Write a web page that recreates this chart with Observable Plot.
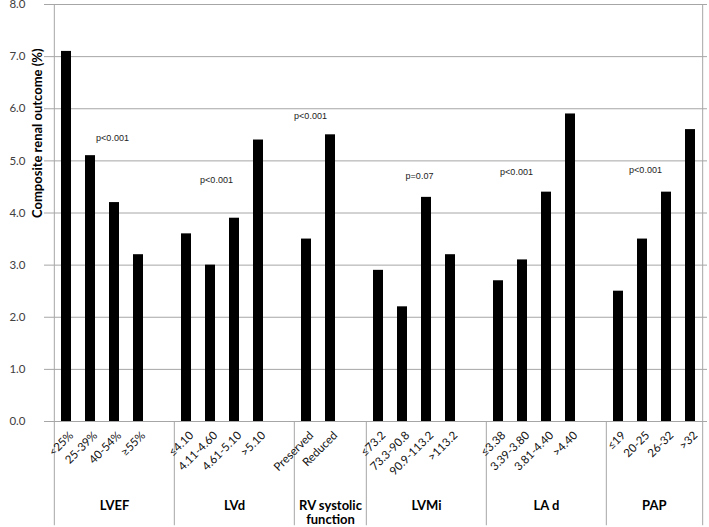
<!DOCTYPE html>
<html>
<head>
<meta charset="utf-8">
<script src="https://cdn.jsdelivr.net/npm/d3@7"></script>
<script src="https://cdn.jsdelivr.net/npm/@observablehq/plot@0.6"></script>
<style>
  body { margin: 0; background: #fff; }
  #chart svg { display: block; }
</style>
</head>
<body>
<div id="chart"></div>
<script>
// ---- data ----
const groupNames = ["LVEF", "LVd", "RV systolic\nfunction", "LVMi", "LA d", "PAP"];
const categoryLabels = [
  ["<25%", "25-39%", "40-54%", "≥55%"],
  ["≤4.10", "4.11-4.60", "4.61-5.10", ">5.10"],
  ["Preserved", "Reduced"],
  ["≤73.2", "73.3-90.8", "90.9-113.2", ">113.2"],
  ["≤3.38", "3.39-3.80", "3.81-4.40", ">4.40"],
  ["≤19", "20-25", "26-32", ">32"]
];
const values = [
  [7.1, 5.1, 4.2, 3.2],
  [3.6, 3.0, 3.9, 5.4],
  [3.5, 5.5],
  [2.9, 2.2, 4.3, 3.2],
  [2.7, 3.1, 4.4, 5.9],
  [2.5, 3.5, 4.4, 5.6]
];
const pLabels = ["p<0.001", "p<0.001", "p<0.001", "p=0.07", "p<0.001", "p<0.001"];
const pLabelY = [5.43, 4.64, 5.85, 4.70, 4.78, 4.82];      // value-axis level of each annotation
const pLabelAt = [2, 1, 0, 2, 1, 1];                        // category index the annotation sits over
const yTicks = [0, 1, 2, 3, 4, 5, 6, 7, 8];
const yLabel = "Composite renal outcome (%)";

// ---- build table ----
const rows = [];
const slots = [];
const groupInfo = [];
groupNames.forEach((g, gi) => {
  const keys = [];
  categoryLabels[gi].forEach((lab, ci) => {
    const key = gi + "|" + lab;
    rows.push({key, label: lab, value: values[gi][ci], group: g});
    keys.push(key);
  });
  if (gi < groupNames.length - 1) keys.push("gap" + gi);
  slots.push(...keys);
  groupInfo.push({name: g, keys});
});
const pRows = pLabels.map((t, i) => ({
  text: t, y: pLabelY[i], key: i + "|" + categoryLabels[i][pLabelAt[i]]
}));

// ---- layout ----
const W = 709, H = 527, mL = 49, mR = 2, mT = 4, mB = 106;
const step = (W - mL - mR) / slots.length;
const grid = "#a6a6a6";
const calib = "Lato, 'Open Sans', sans-serif";

// group label anchors: center of each group's slot span
const groupLabels = groupInfo.map(d => {
  const n = d.keys.length;
  if (n % 2 === 1) return {name: d.name, key: d.keys[(n - 1) / 2], off: 0};
  return {name: d.name, key: d.keys[n / 2], off: -step / 2};
});

const pdx = [-2, 6, 4, -7, -6, 3];

const chart = Plot.plot({
  width: W,
  height: H,
  marginLeft: mL,
  marginRight: mR,
  marginTop: mT,
  marginBottom: mB,
  style: {background: "#fff", fontFamily: calib, overflow: "visible"},
  x: {type: "band", domain: slots, paddingInner: 0.59, paddingOuter: 0.295, axis: null},
  y: {domain: [0, 8], axis: null},
  marks: [
    // horizontal gridlines
    Plot.ruleY(yTicks.filter(d => d > 0), {stroke: grid, strokeWidth: 1, insetLeft: -5}),
    Plot.ruleY([0], {stroke: grid, strokeWidth: 1, insetLeft: -5}),
    // y tick labels
    Plot.axisY({
      ticks: yTicks, tickFormat: d => d.toFixed(1), tickSize: 0, tickPadding: 24,
      fontSize: 11.5, fontFamily: calib, color: "#404040", label: null
    }),
    // left axis line and right border
    Plot.ruleX([slots[0]], {y1: 8, y2: -2, dx: -step / 2, stroke: grid}),
    Plot.ruleX([slots[slots.length - 1]], {y1: 8, y2: -2, dx: step / 2, stroke: grid}),
    // group separators below the axis
    Plot.ruleX(groupInfo.slice(1).map(d => d.keys[0]), {y1: 0, y2: -2, dx: -step / 2, stroke: grid}),
    // bars
    Plot.barY(rows, {x: "key", y: "value", fill: "#000"}),
    // category labels
    Plot.text(rows, {
      x: "key", y: 0, text: "label", rotate: -45, textAnchor: "end",
      dx: 5, dy: 12, fontSize: 11.5, fill: "#111", fontFamily: calib
    }),
    // group labels
    ...groupLabels.map(d => Plot.text([d], {
      x: "key", y: -1.5, text: "name", dx: d.off, lineAnchor: "top", lineHeight: 1.08,
      fontSize: 13, fontWeight: "bold", fill: "#000", fontFamily: calib
    })),
    // p-value annotations
    ...pRows.map((d, i) => Plot.text([d], {
      x: "key", y: "y", text: "text", dx: pdx[i],
      fontSize: 9, fill: "#222", fontFamily: "'Liberation Sans', Arial, sans-serif"
    })),
    // y-axis title
    Plot.text([yLabel], {
      frameAnchor: "left", text: d => d, rotate: -90, dx: -12, dy: 5,
      fontSize: 13, fontWeight: "bold", fill: "#000", fontFamily: calib
    })
  ]
});
document.getElementById("chart").appendChild(chart);
</script>
</body>
</html>
